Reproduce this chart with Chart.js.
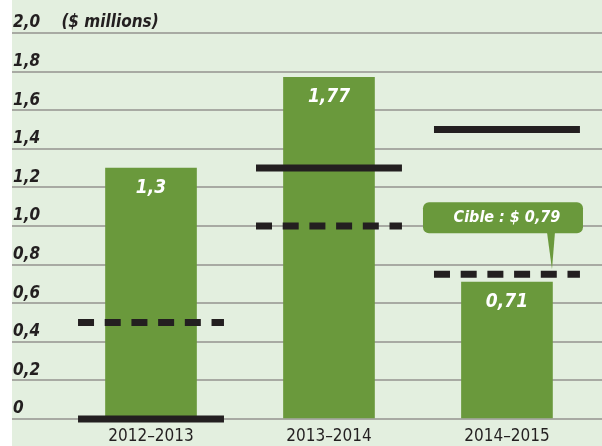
<!DOCTYPE html>
<html>
<head>
<meta charset="utf-8">
<script src="https://cdn.jsdelivr.net/npm/chart.js@4"></script>
<style>
    body { margin: 0; background: #ffffff; }
    #wrap { position: absolute; left: 12px; top: 0; width: 590px; height: 446px; background: #e3efdf; }
</style>
</head>
<body>
<div id="wrap"><canvas id="chart"></canvas></div>
<script>
// ---------------- DATA ----------------

const periods = ["2012–2013", "2013–2014", "2014–2015"];
const actual = [1.3, 1.77, 0.71];        // green bars
const previous = [0, 1.3, 1.5];          // solid black line
const target = [0.5, 1.0, 0.75];         // dashed black line
const targetNote = "Cible : $ 0,79";
const unitNote = "($ millions)";

const FONT = "'Liberation Sans Narrow', 'DejaVu Sans Condensed', sans-serif";
const GREEN = "#6a993c";
const BLACK = "#231f20";

function comma(v) {
    return String(v).replace(".", ",");
}

// short horizontal segment across each period, gap between periods
function segments(values) {
    const pts = [];
    values.forEach((v, i) => {
        pts.push({ x: i - 0.41, y: v }, { x: i + 0.41, y: v }, { x: i + 0.5, y: null });
    });
    return pts;
}


// ---------------- LABEL PLUGIN ----------------

const labelPlugin = {
    id: "labels",
    afterDatasetsDraw(chart) {
        const ctx = chart.ctx;
        const bars = chart.getDatasetMeta(0).data;

        ctx.save();
        ctx.fillStyle = "#ffffff";
        ctx.textAlign = "center";
        ctx.textBaseline = "middle";
        ctx.font = "italic bold 19px " + FONT;
        bars.forEach((bar, i) => {
            ctx.fillText(comma(actual[i]), bar.x, bar.y + 20);
        });

        // callout for the 2014-2015 target
        const x = chart.scales.x.getPixelForValue(2.253);
        const y = chart.scales.y.getPixelForValue(target[2]) - 5;
        const left = x - 129, right = x + 31, top = y - 67, bottom = y - 36;

        ctx.fillStyle = GREEN;
        ctx.beginPath();
        ctx.roundRect(left, top, right - left, bottom - top, 6);
        ctx.fill();
        ctx.beginPath();
        ctx.moveTo(x - 5, bottom - 1);
        ctx.lineTo(x + 3, bottom - 1);
        ctx.lineTo(x, y);
        ctx.closePath();
        ctx.fill();

        ctx.fillStyle = "#ffffff";
        ctx.font = "italic bold 16px " + FONT;
        ctx.fillText(targetNote, (left + right) / 2 + 4, (top + bottom) / 2);
        ctx.restore();
    }
};


// ---------------- CHART ----------------

new Chart(document.getElementById("chart"), {
    type: "bar",
    data: {
        datasets: [
            {
                label: "Réel",
                data: actual.map((v, i) => ({ x: i, y: v })),
                backgroundColor: GREEN,
                barThickness: 91,
                order: 3
            },
            {
                type: "line",
                label: "Année précédente",
                data: segments(previous),
                borderColor: BLACK,
                borderWidth: 7,
                borderCapStyle: "butt",
                pointRadius: 0,
                spanGaps: false,
                clip: false,
                order: 1
            },
            {
                type: "line",
                label: "Cible",
                data: segments(target),
                borderColor: BLACK,
                borderWidth: 7,
                borderCapStyle: "butt",
                borderDash: [16, 10.7],
                pointRadius: 0,
                spanGaps: false,
                clip: false,
                order: 2
            }
        ]
    },
    options: {
        responsive: true,
        maintainAspectRatio: false,
        animation: false,
        layout: {
            padding: { top: 33, left: 0, right: 0, bottom: 0 }
        },
        plugins: {
            legend: { display: false },
            tooltip: { enabled: false }
        },
        scales: {
            x: {
                type: "linear",
                offset: false,
                min: -0.781,
                max: 2.534,
                afterBuildTicks: (scale) => {
                    scale.ticks = periods.map((p, i) => ({ value: i }));
                },
                afterFit: (scale) => {
                    scale.height = 27;
                },
                ticks: {
                    callback: (v) => periods[v] ?? "",
                    color: BLACK,
                    font: { family: FONT, size: 17 },
                    padding: 7,
                    maxRotation: 0,
                    autoSkip: false
                },
                grid: { display: false, drawTicks: false },
                border: { display: false }
            },
            y: {
                min: 0,
                max: 2,
                afterFit: (scale) => {
                    scale.width = 0;
                },
                ticks: {
                    stepSize: 0.2,
                    mirror: true,
                    padding: 1,
                    labelOffset: -10,
                    color: BLACK,
                    font: { family: FONT, size: 17, weight: "bold", style: "italic" },
                    callback: (v) => {
                        if (v === 0) return "0";
                        const s = v.toFixed(1).replace(".", ",");
                        return v >= 1.99 ? s + "    " + unitNote : s;
                    }
                },
                grid: {
                    color: "#a8aaa3",
                    lineWidth: 2,
                    drawTicks: false
                },
                border: { display: false }
            }
        }
    },
    plugins: [labelPlugin]
});
</script>
</body>
</html>
